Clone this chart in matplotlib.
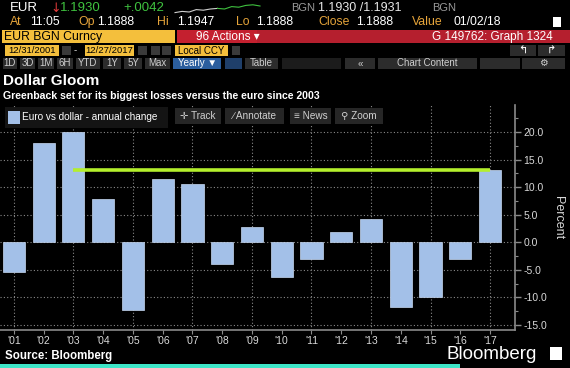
import numpy as np
import matplotlib
matplotlib.use("Agg")
import matplotlib.pyplot as plt
from matplotlib.patches import Rectangle

# data
years = list(range(2001, 2018))
labels = ["'%02d" % (y % 100) for y in years]
changes = [-5.4, 18.0, 20.1, 7.8, -12.4, 11.5, 10.6, -4.0, 2.7, -6.4,
           -3.0, 1.9, 4.2, -11.8, -10.0, -3.0, 13.1]
level_2017 = 13.1
yticks = [-15, -10, -5, 0, 5, 10, 15, 20]
spark = [0.2, 0.3, 0.25, 0.45, 0.4, 0.5, 0.55, 0.5, 0.7, 0.65, 0.8, 0.85, 0.75]

W, H = 570, 368
BAR = "#a3c0e8"
LIME = "#b4ef2c"
GRID = "#8a8a8a"
TXT = "#d9d9d9"
ORANGE = "#e6a43a"
GREEN = "#3fc23f"
YELLOW = "#f4bf3c"
RED = "#b51f2e"
BTN = "#2c2c2c"
FAM = ["Liberation Sans", "DejaVu Sans"]

plt.rcParams["font.family"] = FAM

fig = plt.figure(figsize=(W / 100, H / 100), dpi=100, facecolor="black")

# main plot, positioned in pixels
L, R, T, B = 0, 515, 105, 330
ax = fig.add_axes([L / W, 1 - B / H, (R - L) / W, (B - T) / H], facecolor="black")
ax.bar(years, changes, width=0.74, color=BAR, edgecolor="#c8d9f2", linewidth=0.5, zorder=3)
ax.plot([2003, 2017], [level_2017, level_2017], color=LIME, lw=2.6, zorder=4,
        solid_capstyle="butt")
ax.set_xlim(2000.53, 2017.84)
ax.set_ylim(-15.95, 24.95)
ax.set_yticks(yticks)
ax.set_yticklabels(["%.1f" % v for v in yticks])
ax.set_yticks(np.arange(-15, 25, 2.5), minor=True)
ax.set_xticks(years)
ax.set_xticklabels(labels)
ax.yaxis.tick_right()
ax.yaxis.set_label_position("right")
ax.tick_params(axis="y", which="major", colors=GRID, labelcolor=TXT, labelsize=7.5,
               length=4, width=1, pad=2)
ax.tick_params(axis="y", which="minor", colors=GRID, length=2.5, width=0.8)
ax.tick_params(axis="x", colors=GRID, labelcolor=TXT, labelsize=7.5, length=3, pad=1)
for s in ["left", "top"]:
    ax.spines[s].set_visible(False)
for s in ["right", "bottom"]:
    ax.spines[s].set_color(GRID)
    ax.spines[s].set_linewidth(1.2)
for v in yticks:
    ax.axhline(v, color=GRID, lw=0.8, ls=(0, (1, 2)), zorder=1)
for yr in years[::2]:
    ax.axvline(yr, color=GRID, lw=0.8, ls=(0, (1, 2)), zorder=1)
ax.set_ylabel("Percent", color=TXT, fontsize=9, rotation=270, labelpad=12)

# overlay in pixel coordinates for the terminal chrome
ov = fig.add_axes([0, 0, 1, 1])
ov.set_xlim(0, W)
ov.set_ylim(H, 0)
ov.axis("off")
ov.patch.set_visible(False)


def box(x0, y0, x1, y1, color):
    ov.add_patch(Rectangle((x0, y0), x1 - x0, y1 - y0, color=color, lw=0))


def txt(x, y, s, color=TXT, size=8, **kw):
    kw.setdefault("va", "center")
    ov.text(x, y, s, color=color, fontsize=size, **kw)


# row 1
txt(10, 8, "EUR", "white", 9.5)
txt(50, 8, "\u2193", "#e23a3a", 9, family="DejaVu Sans")
txt(60, 8, "1.1930", GREEN, 9.5)
txt(123, 8, "+.0042", GREEN, 9.5)
sx = np.linspace(175, 260, len(spark))
sy = 15 - np.array(spark) * 12
ov.plot(sx[:7], sy[:7], color="#cfcfcf", lw=0.8)
ov.plot(sx[6:], sy[6:], color=GREEN, lw=0.8)
txt(291, 8, "BGN", "#9a9a9a", 8)
txt(318, 8, "1.1930 /1.1931", "#e8e8e8", 9)
txt(432, 8, "BGN", "#9a9a9a", 8)

# row 2
for x, s, c in [(10, "At", ORANGE), (30, "11:05", "white"), (78, "Op", ORANGE),
                (97, "1.1888", "white"), (157, "Hi", ORANGE), (177, "1.1947", "white"),
                (236, "Lo", ORANGE), (256, "1.1888", "white"), (318, "Close", ORANGE),
                (356, "1.1888", "white"), (412, "Value", ORANGE), (454, "01/02/18", "white")]:
    txt(x, 22, s, c, 8.8)
box(553, 17, 561, 27, "white")

# row 3
box(2, 30, 175, 43, YELLOW)
txt(4, 37, "EUR BGN Curncy", "black", 8.8)
box(177, 30, 570, 43, RED)
box(177, 30, 257, 43, "#c4202f")
txt(196, 37, "96 Actions \u25be", "white", 8.5)
txt(553, 37, "G 149762: Graph 1324", "white", 8.5, ha="right")

# row 4
box(5, 45, 59, 56, YELLOW)
txt(32, 50.5, "12/31/2001", "black", 6.8, ha="center")
box(62, 46, 71, 55, "#3a3a3a")
txt(74, 50.5, "-", TXT, 7)
box(85, 45, 134, 56, YELLOW)
txt(109.5, 50.5, "12/27/2017", "black", 6.8, ha="center")
for x0 in [138, 151, 162]:
    box(x0, 46, x0 + 9, 55, "#3a3a3a")
box(175, 45, 228, 56, YELLOW)
txt(178, 50.5, "Local CCY", "black", 7)
box(232, 46, 240, 55, "#3a3a3a")
box(510, 45, 536, 56, BTN)
box(538, 45, 565, 56, BTN)
txt(523, 50.5, "\u21b0", "white", 8, ha="center", family="DejaVu Sans")
txt(551, 50.5, "\u21b1", "white", 8, ha="center", family="DejaVu Sans")

# row 5
for x0, x1, s in [(3, 17, "1D"), (20, 35, "3D"), (38, 54, "1M"), (57, 73, "6H"),
                  (76, 100, "YTD"), (103, 121, "1Y"), (124, 142, "5Y"), (145, 170, "Max"),
                  (245, 278, "Table"), (345, 375, "\u00ab"), (378, 477, "Chart Content"),
                  (480, 520, ""), (522, 565, "\u2699")]:
    box(x0, 58, x1, 69, BTN)
    txt((x0 + x1) / 2, 63.5, s, "#cfcfcf", 7, ha="center")
box(282, 58, 341, 69, "#1c1c1c")
box(173, 58, 221, 69, "#2b5e9e")
txt(197, 63.5, "Yearly \u25bc", "white", 7, ha="center")
box(225, 58, 242, 69, "#1f3f6a")

# titles
txt(3, 81, "Dollar Gloom", "white", 11, fontweight="bold")
txt(3, 96, "Greenback set for its biggest losses versus the euro since 2003", "white", 7.6,
    fontweight="bold")

# legend row and chart buttons
box(5, 107, 168, 128, "#141414")
box(8, 111, 20, 124, BAR)
txt(22, 117.5, "Euro vs dollar - annual change", "white", 7.2)
for x0, x1, s in [(175, 221, "\u271b Track"), (225, 284, "\u2215 Annotate"),
                  (290, 331, "\u2261 News"), (335, 383, "\u26b2 Zoom")]:
    box(x0, 108, x1, 124, "#262626")
    txt((x0 + x1) / 2, 116, s, "#d0d0d0", 7.2, ha="center")

# footer
txt(5, 356, "Source: Bloomberg", "white", 8.3, fontweight="bold")
txt(446, 359, "Bloomberg", "white", 13.5, va="baseline")
box(550, 347, 562, 360, "white")
box(0, 364, 460, 368, "#3de6c8")

fig.savefig("out.png", dpi=100, facecolor="black")
